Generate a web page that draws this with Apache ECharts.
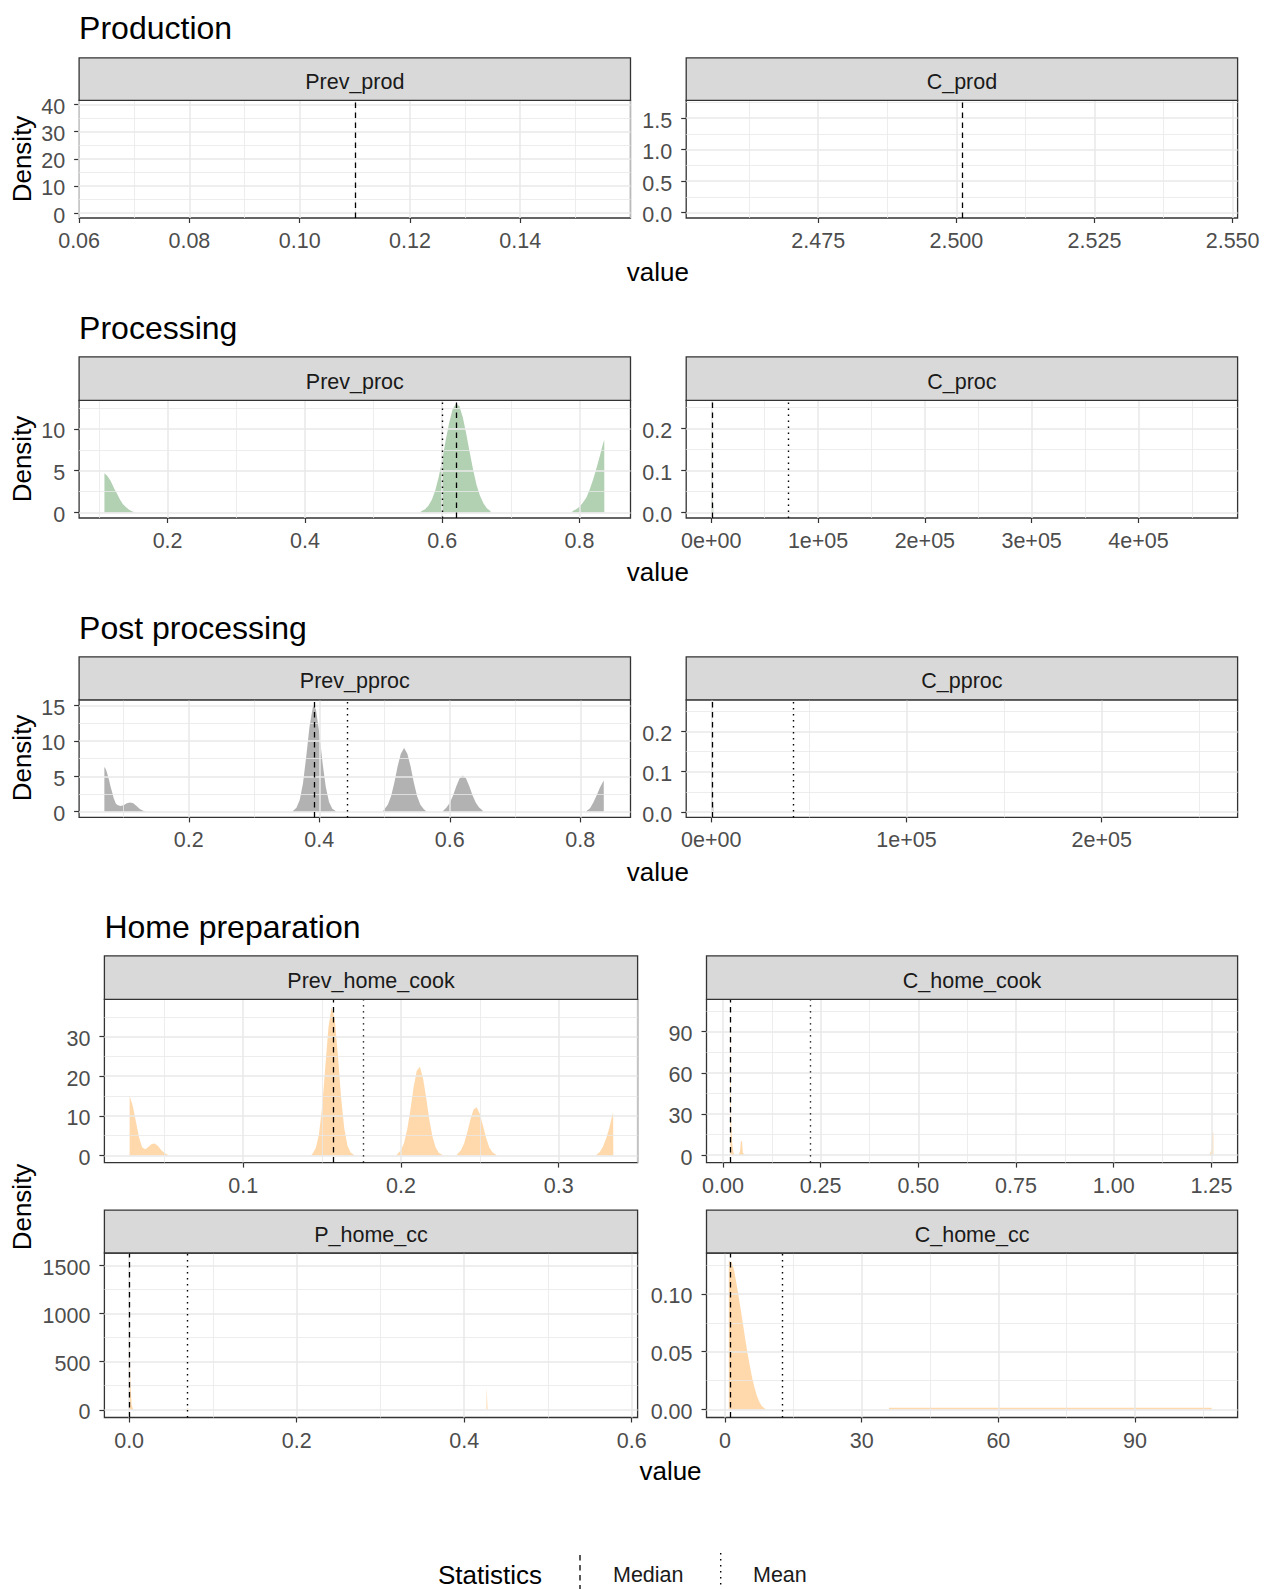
<!DOCTYPE html>
<html><head><meta charset="utf-8">
<script src="https://cdn.jsdelivr.net/npm/echarts/dist/echarts.min.js"></script>
<style>html,body{margin:0;padding:0;background:#fff}#c{width:1264px;height:1589px}</style>
</head><body><div id="c"></div>
<script>
// ================= DATA =================
const sectionTitles = ['Production', 'Processing', 'Post processing', 'Home preparation'];
const panelNames = ['Prev_prod', 'C_prod', 'Prev_proc', 'C_proc', 'Prev_pproc', 'C_pproc',
                    'Prev_home_cook', 'C_home_cook', 'P_home_cc', 'C_home_cc'];
const xAxisTitle = 'value';
const yAxisTitle = 'Density';
const legendTitle = 'Statistics';
const legendLabels = ['Median', 'Mean'];

// Prev_prod
const prevProdX = [0.06, 0.16];
const prevProdY = [-1.83, 41.5];
const prevProdXTicks = [0.06, 0.08, 0.10, 0.12, 0.14];
const prevProdXLabels = ['0.06', '0.08', '0.10', '0.12', '0.14'];
const prevProdYTicks = [0, 10, 20, 30, 40];
const prevProdYLabels = ['0', '10', '20', '30', '40'];
const prevProdDensity = [];
const prevProdStats = [0.110, null]; // [median, mean]

// C_prod
const cProdX = [2.4511, 2.5509];
const cProdY = [-0.0847, 1.779];
const cProdXTicks = [2.475, 2.500, 2.525, 2.550];
const cProdXLabels = ['2.475', '2.500', '2.525', '2.550'];
const cProdYTicks = [0, 0.5, 1.0, 1.5];
const cProdYLabels = ['0.0', '0.5', '1.0', '1.5'];
const cProdDensity = [];
const cProdStats = [2.5011, null];

// Prev_proc
const prevProcX = [0.0711, 0.8742];
const prevProcY = [-0.65, 13.4];
const prevProcXTicks = [0.2, 0.4, 0.6, 0.8];
const prevProcXLabels = ['0.2', '0.4', '0.6', '0.8'];
const prevProcYTicks = [0, 5, 10];
const prevProcYLabels = ['0', '5', '10'];
const prevProcDensity = [
  [0.108, 0], [0.108, 4.7], [0.112, 4.4], [0.117, 3.8], [0.122, 2.9], [0.126, 2.3], [0.131, 1.5],
  [0.135, 1.0], [0.140, 0.6], [0.144, 0.35], [0.148, 0.15], [0.152, 0.05], [0.153, 0],
  [0.568, 0], [0.570, 0.19], [0.575, 0.41], [0.580, 0.84], [0.585, 1.56], [0.590, 2.7], [0.595, 4.3],
  [0.600, 6.3], [0.605, 8.6], [0.610, 10.7], [0.615, 12.3], [0.620, 13.0], [0.625, 12.7], [0.630, 11.4],
  [0.635, 9.4], [0.640, 7.2], [0.645, 5.1], [0.650, 3.3], [0.655, 2.0], [0.660, 1.1], [0.665, 0.5],
  [0.670, 0.2], [0.671, 0],
  [0.789, 0], [0.790, 0.2], [0.795, 0.4], [0.800, 0.7], [0.805, 1.2], [0.810, 1.8], [0.815, 2.8],
  [0.820, 4.0], [0.825, 5.4], [0.830, 6.9], [0.834, 8.2], [0.836, 8.7], [0.8361, 0]
];
const prevProcStats = [0.6206, 0.5995];

// C_proc
const cProcX = [-23500, 492900];
const cProcY = [-0.0127, 0.267];
const cProcXTicks = [0, 100000, 200000, 300000, 400000];
const cProcXLabels = ['0e+00', '1e+05', '2e+05', '3e+05', '4e+05'];
const cProcYTicks = [0, 0.1, 0.2];
const cProcYLabels = ['0.0', '0.1', '0.2'];
const cProcDensity = [[0, 0], [0, 0.254], [600, 0.15], [1200, 0.05], [2000, 0]];
const cProcStats = [500, 72000];

// Prev_pproc
const prevPprocX = [0.0319, 0.877];
const prevPprocY = [-0.8, 15.8];
const prevPprocXTicks = [0.2, 0.4, 0.6, 0.8];
const prevPprocXLabels = ['0.2', '0.4', '0.6', '0.8'];
const prevPprocYTicks = [0, 5, 10, 15];
const prevPprocYLabels = ['0', '5', '10', '15'];
const prevPprocDensity = [
  [0.0706, 0], [0.0706, 6.3], [0.073, 6.0], [0.075, 5.4], [0.078, 4.4], [0.080, 3.6], [0.083, 2.6],
  [0.085, 1.9], [0.088, 1.2], [0.090, 1.0], [0.095, 0.8], [0.100, 0.9], [0.105, 1.2], [0.110, 1.3],
  [0.115, 1.2], [0.120, 0.8], [0.125, 0.4], [0.130, 0.15], [0.134, 0.05], [0.135, 0],
  [0.358, 0], [0.360, 0.14], [0.365, 0.55], [0.370, 1.66], [0.375, 4.0], [0.380, 7.8], [0.385, 12.0],
  [0.390, 14.7], [0.392, 15.0], [0.395, 14.4], [0.400, 11.2], [0.405, 6.9], [0.410, 3.5], [0.415, 1.36],
  [0.420, 0.43], [0.425, 0.1], [0.426, 0],
  [0.497, 0], [0.500, 0.4], [0.505, 1.0], [0.510, 2.2], [0.515, 4.1], [0.520, 6.4], [0.525, 8.2],
  [0.530, 9.0], [0.535, 8.2], [0.540, 6.4], [0.545, 4.1], [0.550, 2.2], [0.555, 1.0], [0.560, 0.4],
  [0.563, 0.15], [0.564, 0],
  [0.589, 0], [0.590, 0.15], [0.595, 0.6], [0.600, 1.27], [0.605, 2.3], [0.610, 3.6], [0.615, 4.7],
  [0.620, 5.1], [0.625, 4.7], [0.630, 3.6], [0.635, 2.3], [0.640, 1.27], [0.645, 0.6], [0.650, 0.2],
  [0.651, 0],
  [0.809, 0], [0.810, 0.15], [0.815, 0.5], [0.820, 1.3], [0.825, 2.3], [0.830, 3.4], [0.834, 4.1],
  [0.836, 4.4], [0.8361, 0]
];
const prevPprocStats = [0.3925, 0.4425];

// C_pproc
const cPprocX = [-12840, 269640];
const cPprocY = [-0.0132, 0.278];
const cPprocXTicks = [0, 100000, 200000];
const cPprocXLabels = ['0e+00', '1e+05', '2e+05'];
const cPprocYTicks = [0, 0.1, 0.2];
const cPprocYLabels = ['0.0', '0.1', '0.2'];
const cPprocDensity = [[0, 0], [0, 0.265], [300, 0.15], [700, 0.05], [1200, 0]];
const cPprocStats = [300, 42000];

// Prev_home_cook
const prevHomeCookX = [0.012, 0.350];
const prevHomeCookY = [-1.8, 39.4];
const prevHomeCookXTicks = [0.1, 0.2, 0.3];
const prevHomeCookXLabels = ['0.1', '0.2', '0.3'];
const prevHomeCookYTicks = [0, 10, 20, 30];
const prevHomeCookYLabels = ['0', '10', '20', '30'];
const prevHomeCookDensity = [
  [0.028, 0], [0.028, 15.0], [0.030, 12.5], [0.032, 8.5], [0.034, 4.5], [0.036, 2.0], [0.038, 1.6],
  [0.040, 2.2], [0.042, 2.9], [0.044, 3.0], [0.046, 2.4], [0.048, 1.4], [0.050, 0.6], [0.052, 0.2],
  [0.053, 0],
  [0.143, 0], [0.144, 0.5], [0.146, 1.9], [0.148, 5.3], [0.150, 12.2], [0.152, 22.2], [0.154, 32.3],
  [0.156, 37.4], [0.158, 34.6], [0.160, 25.4], [0.162, 14.9], [0.164, 7.0], [0.166, 2.6], [0.168, 0.8],
  [0.170, 0.2], [0.171, 0],
  [0.197, 0], [0.198, 0.5], [0.200, 1.3], [0.202, 3.2], [0.204, 6.7], [0.206, 11.6], [0.208, 17.2],
  [0.210, 21.4], [0.212, 22.4], [0.214, 19.5], [0.216, 14.5], [0.218, 9.0], [0.220, 4.7], [0.222, 2.0],
  [0.224, 0.7], [0.226, 0.2], [0.227, 0],
  [0.235, 0], [0.236, 0.46], [0.238, 1.3], [0.240, 3.0], [0.242, 5.8], [0.244, 9.1], [0.246, 11.6],
  [0.248, 12.2], [0.250, 10.5], [0.252, 7.5], [0.254, 4.4], [0.256, 2.0], [0.258, 0.8], [0.260, 0.25],
  [0.261, 0],
  [0.323, 0], [0.324, 0.2], [0.326, 0.9], [0.328, 2.2], [0.330, 4.2], [0.332, 6.9], [0.334, 10.3],
  [0.3345, 10.7], [0.3346, 0]
];
const prevHomeCookStats = [0.1572, 0.1764];

// C_home_cook
const cHomeCookX = [-0.042, 1.317];
const cHomeCookY = [-5.4, 113.4];
const cHomeCookXTicks = [0, 0.25, 0.5, 0.75, 1.0, 1.25];
const cHomeCookXLabels = ['0.00', '0.25', '0.50', '0.75', '1.00', '1.25'];
const cHomeCookYTicks = [0, 30, 60, 90];
const cHomeCookYLabels = ['0', '30', '60', '90'];
const cHomeCookDensity = [
  [0.019, 0], [0.019, 108], [0.0203, 60], [0.021, 25], [0.022, 20], [0.024, 8], [0.027, 2], [0.030, 0.4],
  [0.040, 0.2], [0.044, 3], [0.046, 10.4], [0.049, 10], [0.051, 2], [0.055, 0.3], [0.070, 0.1], [0.100, 0],
  [1.245, 0], [1.250, 4], [1.252, 16.5], [1.255, 16.5], [1.2551, 0]
];
const cHomeCookStats = [0.018, 0.2244];

// P_home_cc
const pHomeCcX = [-0.0295, 0.607];
const pHomeCcY = [-80, 1629];
const pHomeCcXTicks = [0, 0.2, 0.4, 0.6];
const pHomeCcXLabels = ['0.0', '0.2', '0.4', '0.6'];
const pHomeCcYTicks = [0, 500, 1000, 1500];
const pHomeCcYLabels = ['0', '500', '1000', '1500'];
const pHomeCcDensity = [
  [0, 0], [0, 1551], [0.0005, 827], [0.0015, 300], [0.003, 50], [0.005, 0],
  [0.068, 0], [0.070, 15], [0.072, 0],
  [0.4265, 0], [0.4268, 234], [0.4276, 234], [0.4279, 0]
];
const pHomeCcStats = [0.0, 0.069];

// C_home_cc
const cHomeCcX = [-4.04, 112.5];
const cHomeCcY = [-0.0070, 0.1355];
const cHomeCcXTicks = [0, 30, 60, 90];
const cHomeCcXLabels = ['0', '30', '60', '90'];
const cHomeCcYTicks = [0, 0.05, 0.10];
const cHomeCcYLabels = ['0.00', '0.05', '0.10'];
const cHomeCcDensity = [
  [0.86, 0], [0.86, 0.129], [1.5, 0.127], [2.0, 0.121], [2.5, 0.110], [3.0, 0.098], [3.5, 0.086],
  [4.0, 0.073], [4.5, 0.060], [5.0, 0.048], [5.5, 0.037], [6.0, 0.027], [6.5, 0.019], [7.0, 0.012],
  [7.5, 0.007], [8.0, 0.0035], [8.6, 0.0012], [9.0, 0],
  [36.0, 0], [36.0, 0.0015], [106.8, 0.0015], [106.81, 0]
];
const cHomeCcStats = [1.12, 12.54];

// ================= TABLE (built from the arrays above) =================
const panels = [
  [prevProdX, prevProdY, prevProdXTicks, prevProdXLabels, prevProdYTicks, prevProdYLabels, prevProdDensity, prevProdStats],
  [cProdX, cProdY, cProdXTicks, cProdXLabels, cProdYTicks, cProdYLabels, cProdDensity, cProdStats],
  [prevProcX, prevProcY, prevProcXTicks, prevProcXLabels, prevProcYTicks, prevProcYLabels, prevProcDensity, prevProcStats],
  [cProcX, cProcY, cProcXTicks, cProcXLabels, cProcYTicks, cProcYLabels, cProcDensity, cProcStats],
  [prevPprocX, prevPprocY, prevPprocXTicks, prevPprocXLabels, prevPprocYTicks, prevPprocYLabels, prevPprocDensity, prevPprocStats],
  [cPprocX, cPprocY, cPprocXTicks, cPprocXLabels, cPprocYTicks, cPprocYLabels, cPprocDensity, cPprocStats],
  [prevHomeCookX, prevHomeCookY, prevHomeCookXTicks, prevHomeCookXLabels, prevHomeCookYTicks, prevHomeCookYLabels, prevHomeCookDensity, prevHomeCookStats],
  [cHomeCookX, cHomeCookY, cHomeCookXTicks, cHomeCookXLabels, cHomeCookYTicks, cHomeCookYLabels, cHomeCookDensity, cHomeCookStats],
  [pHomeCcX, pHomeCcY, pHomeCcXTicks, pHomeCcXLabels, pHomeCcYTicks, pHomeCcYLabels, pHomeCcDensity, pHomeCcStats],
  [cHomeCcX, cHomeCcY, cHomeCcXTicks, cHomeCcXLabels, cHomeCcYTicks, cHomeCcYLabels, cHomeCcDensity, cHomeCcStats]
];

// ================= LAYOUT / STYLE =================
const FONT = '"Liberation Sans", Arial, Helvetica, sans-serif';
const fills = ['rgba(0,100,0,0.3)', 'rgba(0,100,0,0.3)', 'rgba(0,100,0,0.3)', 'rgba(0,100,0,0.3)',
               'rgba(0,0,0,0.3)', 'rgba(0,0,0,0.3)',
               'rgba(255,140,0,0.33)', 'rgba(255,140,0,0.33)', 'rgba(255,140,0,0.33)', 'rgba(255,140,0,0.33)'];
// [left, width]
const cols = [[79.1, 551.4], [686.2, 551.4], [104.4, 533.2], [706.5, 531.1]];
// [stripTop, plotTop, plotHeight]
const rows = [[57.8, 100.4, 117.6], [356.8, 400.4, 117.6], [656.8, 699.8, 117.6],
              [955.9, 999.4, 163.2], [1210.2, 1253.0, 164.5]];
const titlePos = [[79.1, 27.5], [79.1, 327.5], [79.1, 627.5], [104.4, 926.5]];
const xTitlePos = [[657.8, 272], [657.8, 572], [657.8, 872], [670.5, 1471]];
const yTitlePos = [[22.3, 159], [22.3, 459], [22.3, 758], [22.3, 1207]];

function lookup(ticks, labels) {
  return function (v) {
    for (let k = 0; k < ticks.length; k++) {
      if (Math.abs(ticks[k] - v) <= 1e-9 * (Math.abs(ticks[k]) + 1)) return labels[k];
    }
    return '';
  };
}
function gridValues(ticks, range) {
  const step = ticks[1] - ticks[0], h = step / 2, t0 = ticks[0];
  const out = [];
  const k0 = Math.ceil((range[0] - t0) / h - 1e-9), k1 = Math.floor((range[1] - t0) / h + 1e-9);
  for (let k = k0; k <= k1; k++) out.push({ v: t0 + k * h, major: (k % 2 === 0) });
  return out;
}

const grids = [], xAxes = [], yAxes = [], series = [], graphics = [];
const GRID_COLOR = '#e9e9e9';

panels.forEach(function (p, i) {
  const [xr, yr, xt, xl, yt, yl, dens, stats] = p;
  const row = rows[Math.floor(i / 2)];
  const col = cols[(i < 6 ? 0 : 2) + (i % 2)];
  grids.push({ left: col[0], top: row[1], width: col[1], height: row[2], show: true,
               borderColor: '#333333', borderWidth: 1.3, backgroundColor: '#ffffff', containLabel: false });
  const tickStyle = { show: true, length: 5, lineStyle: { color: '#333333', width: 1.2 } };
  xAxes.push({ gridIndex: i, type: 'value', min: xr[0], max: xr[1],
    axisLine: { show: false, onZero: false },
    axisTick: Object.assign({ customValues: xt }, tickStyle),
    axisLabel: { customValues: xt, formatter: lookup(xt, xl), color: '#4d4d4d', fontSize: 21.5,
                 fontFamily: FONT, margin: 12, showMinLabel: true, showMaxLabel: true, hideOverlap: false },
    splitLine: { show: false } });
  yAxes.push({ gridIndex: i, type: 'value', min: yr[0], max: yr[1],
    axisLine: { show: false, onZero: false },
    axisTick: Object.assign({ customValues: yt }, tickStyle),
    axisLabel: { customValues: yt, formatter: lookup(yt, yl), color: '#4d4d4d', fontSize: 21.5,
                 fontFamily: FONT, margin: 14, verticalAlign: 'top', lineHeight: 5,
                 showMinLabel: true, showMaxLabel: true, hideOverlap: false },
    splitLine: { show: false } });

  // background grid lines (major + minor) through the axis scales
  const gl = [];
  gridValues(xt, xr).forEach(function (g) {
    gl.push({ xAxis: g.v, lineStyle: { color: GRID_COLOR, width: g.major ? 1.5 : 0.8, type: 'solid' } });
  });
  gridValues(yt, yr).forEach(function (g) {
    gl.push({ yAxis: g.v, lineStyle: { color: GRID_COLOR, width: g.major ? 1.5 : 0.8, type: 'solid' } });
  });
  series.push({ type: 'line', xAxisIndex: i, yAxisIndex: i, data: [], z: 1, silent: true,
    markLine: { silent: true, symbol: ['none', 'none'], label: { show: false }, animation: false,
                precision: 12, emphasis: { disabled: true }, data: gl } });

  series.push({ type: 'line', xAxisIndex: i, yAxisIndex: i, data: dens, z: 2, silent: true,
    showSymbol: false, symbol: 'none', smooth: false,
    lineStyle: { width: 0, opacity: 0 }, areaStyle: { color: fills[i], opacity: 1 } });

  const sl = [];
  if (stats[0] !== null) sl.push({ xAxis: stats[0], lineStyle: { color: '#000000', width: 1.3, type: [5.5, 4.5] } });
  if (stats[1] !== null) sl.push({ xAxis: stats[1], lineStyle: { color: '#000000', width: 1.4, type: [1.4, 4.6] } });
  series.push({ type: 'line', xAxisIndex: i, yAxisIndex: i, data: [], z: 3, silent: true,
    markLine: { silent: true, symbol: ['none', 'none'], label: { show: false }, animation: false,
                precision: 12, emphasis: { disabled: true }, data: sl } });

  // facet strip
  const sh = row[1] - row[0];
  graphics.push({ type: 'rect', z: 10, shape: { x: col[0], y: row[0], width: col[1], height: sh },
    style: { fill: '#d9d9d9', stroke: '#333333', lineWidth: 1.3 } });
  graphics.push({ type: 'text', z: 11, x: col[0] + col[1] / 2, y: row[0] + sh / 2 + 3,
    style: { text: panelNames[i], fill: '#1a1a1a', font: '21.5px ' + FONT,
             align: 'center', verticalAlign: 'middle', textAlign: 'center', textVerticalAlign: 'middle' } });
});

sectionTitles.forEach(function (t, k) {
  graphics.push({ type: 'text', z: 11, x: titlePos[k][0], y: titlePos[k][1],
    style: { text: t, fill: '#000000', font: '32px ' + FONT, align: 'left', verticalAlign: 'middle',
             textAlign: 'left', textVerticalAlign: 'middle' } });
  graphics.push({ type: 'text', z: 11, x: xTitlePos[k][0], y: xTitlePos[k][1],
    style: { text: xAxisTitle, fill: '#000000', font: '26px ' + FONT, align: 'center', verticalAlign: 'middle',
             textAlign: 'center', textVerticalAlign: 'middle' } });
  graphics.push({ type: 'text', z: 11, x: yTitlePos[k][0], y: yTitlePos[k][1], rotation: Math.PI / 2,
    style: { text: yAxisTitle, fill: '#000000', font: '26px ' + FONT, align: 'center', verticalAlign: 'middle',
             textAlign: 'center', textVerticalAlign: 'middle' } });
});

// legend
graphics.push({ type: 'text', z: 11, x: 438, y: 1574.5,
  style: { text: legendTitle, fill: '#000000', font: '26px ' + FONT, align: 'left', verticalAlign: 'middle',
           textAlign: 'left', textVerticalAlign: 'middle' } });
graphics.push({ type: 'line', z: 11, shape: { x1: 580, y1: 1555, x2: 580, y2: 1589 },
  style: { stroke: '#000000', lineWidth: 1.3, lineDash: [5.5, 4.5] } });
graphics.push({ type: 'text', z: 11, x: 613, y: 1575,
  style: { text: legendLabels[0], fill: '#1a1a1a', font: '21.5px ' + FONT, align: 'left', verticalAlign: 'middle',
           textAlign: 'left', textVerticalAlign: 'middle' } });
graphics.push({ type: 'line', z: 11, shape: { x1: 720.7, y1: 1553, x2: 720.7, y2: 1585 },
  style: { stroke: '#000000', lineWidth: 1.4, lineDash: [1.4, 4.6] } });
graphics.push({ type: 'text', z: 11, x: 753, y: 1575,
  style: { text: legendLabels[1], fill: '#1a1a1a', font: '21.5px ' + FONT, align: 'left', verticalAlign: 'middle',
           textAlign: 'left', textVerticalAlign: 'middle' } });

const chart = echarts.init(document.getElementById('c'), null, { renderer: 'svg', width: 1264, height: 1589 });
chart.setOption({
  animation: false,
  backgroundColor: '#ffffff',
  textStyle: { fontFamily: FONT },
  grid: grids, xAxis: xAxes, yAxis: yAxes, series: series, graphic: graphics
});
</script></body></html>
